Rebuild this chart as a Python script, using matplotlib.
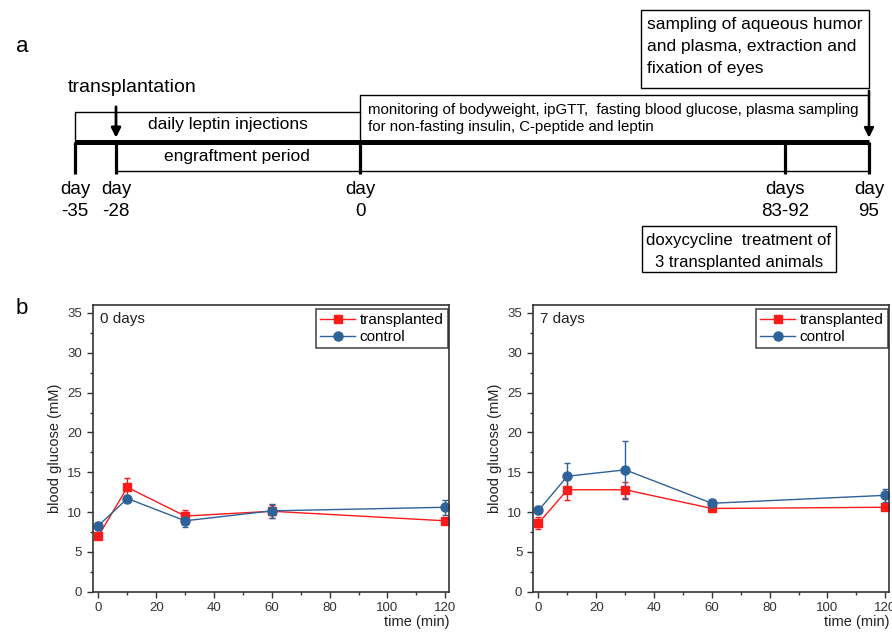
import matplotlib.pyplot as plt
from matplotlib.patches import Rectangle
from matplotlib.lines import Line2D
from matplotlib.ticker import MultipleLocator

plt.rcParams["font.family"] = ["Liberation Sans", "DejaVu Sans"]

# --- data: glucose tolerance (mean, error) ---
time_min = [0, 10, 30, 60, 120]

d0_tx = [7.0, 13.1, 9.5, 10.1, 8.9]
d0_tx_err = [0.3, 1.2, 0.7, 0.8, 0.3]
d0_ctrl = [8.3, 11.7, 8.9, 10.15, 10.6]
d0_ctrl_err = [0.5, 0.5, 0.8, 0.9, 0.95]

d7_tx = [8.6, 12.8, 12.8, 10.45, 10.6]
d7_tx_err = [0.75, 1.35, 1.0, 0.3, 0.4]
d7_ctrl = [10.2, 14.5, 15.3, 11.1, 12.1]
d7_ctrl_err = [0.5, 1.7, 3.6, 0.6, 0.8]

panel_titles = ["0 days", "7 days"]

# --- timeline (schematic, not to scale) ---
day_labels = ["day\n-35", "day\n-28", "day\n0", "days\n83-92", "day\n95"]
day_x = [75, 116, 360, 785, 869]   # schematic positions in pixels

RED = "#ff1a1a"
BLUE = "#2f6299"

fig = plt.figure(figsize=(8.92, 6.32), dpi=100)

# panel a drawn in pixel units
ax = fig.add_axes([0, 0, 1, 1])
ax.set_xlim(0, 892)
ax.set_ylim(632, 0)
ax.axis("off")

x35, x28, x0, x83, x95 = day_x
y_line = 141.5

ax.plot([x35, x95], [y_line, y_line], color="black", lw=3.6, solid_capstyle="butt")
for x in day_x:
    ax.plot([x, x], [y_line, 173.5], color="black", lw=2.3, solid_capstyle="butt")
# leptin box
ax.plot([x35, x35, x0], [y_line, 112, 112], color="black", lw=1.0)
# monitoring box
ax.plot([x0, x0, x95], [y_line, 94.5, 94.5], color="black", lw=1.0)
# engraftment / bottom line
ax.plot([x28, x95], [170.5, 170.5], color="black", lw=1.0)

ax.text(68, 88, "transplantation", fontsize=14, va="center", ha="left")
ax.annotate("", xy=(x28, y_line - 1), xytext=(x28, 104),
            arrowprops=dict(arrowstyle="-|>", color="black", lw=2.0, mutation_scale=14))
ax.text(228, 124, "daily leptin injections", fontsize=12.5, ha="center", va="center")
ax.text(237, 157, "engraftment period", fontsize=12.5, ha="center", va="center")
ax.text(368, 110, "monitoring of bodyweight, ipGTT,  fasting blood glucose, plasma sampling",
        fontsize=10.8, ha="left", va="center")
ax.text(368, 127.5, "for non-fasting insulin, C-peptide and leptin",
        fontsize=10.8, ha="left", va="center")

# sampling box
ax.add_patch(Rectangle((641, 10), x95 - 641, 78, fill=False, lw=1.0, edgecolor="black"))
for i, line in enumerate(["sampling of aqueous humor", "and plasma, extraction and",
                          "fixation of eyes"]):
    ax.text(647, 25 + i * 22, line, fontsize=12.5, ha="left", va="center")
ax.annotate("", xy=(x95, y_line - 1), xytext=(x95, 88),
            arrowprops=dict(arrowstyle="-|>", color="black", lw=1.8, mutation_scale=14))

for x, lab in zip(day_x, day_labels):
    top, bottom = lab.split("\n")
    ax.text(x, 189, top, fontsize=13.5, ha="center", va="center")
    ax.text(x, 212, bottom, fontsize=13.5, ha="center", va="center")

# doxycycline box
ax.add_patch(Rectangle((642, 226), 194, 46, fill=False, lw=1.0, edgecolor="black"))
ax.text(739, 241, "doxycycline  treatment of", fontsize=12, ha="center", va="center")
ax.text(739, 263, "3 transplanted animals", fontsize=12, ha="center", va="center")

ax.text(22, 46, "a", fontsize=16, ha="center", va="center")
ax.text(22, 309, "b", fontsize=16, ha="center", va="center")

# panel b
series = [(d0_tx, d0_tx_err, d0_ctrl, d0_ctrl_err),
          (d7_tx, d7_tx_err, d7_ctrl, d7_ctrl_err)]
lefts = [0.1039, 0.5972]

handles = [
    Line2D([], [], color=RED, marker="s", ms=6, lw=1.0),
    Line2D([], [], color=BLUE, marker="o", ms=6.5, lw=1.0),
]

for left, title, (tx, tx_e, ct, ct_e) in zip(lefts, panel_titles, series):
    a = fig.add_axes([left, 0.0638, 0.3995, 0.4536])
    a.errorbar(time_min, tx, yerr=tx_e, color=RED, marker="s", ms=6, lw=1.0,
               capsize=2.5, elinewidth=1.0)
    a.errorbar(time_min, ct, yerr=ct_e, color=BLUE, marker="o", ms=6.5, lw=1.0,
               capsize=2.5, elinewidth=1.0)
    a.set_xlim(-2, 121.3)
    a.set_ylim(0, 36)
    a.xaxis.set_major_locator(MultipleLocator(20))
    a.xaxis.set_minor_locator(MultipleLocator(10))
    a.yaxis.set_major_locator(MultipleLocator(5))
    a.yaxis.set_minor_locator(MultipleLocator(2.5))
    a.tick_params(which="both", direction="out", top=False, right=False,
                  labelsize=9.5, labelcolor="#333333", color="#333333")
    a.tick_params(which="major", length=4, width=1.0)
    a.tick_params(which="minor", length=2.5, width=1.0)
    for s in a.spines.values():
        s.set_linewidth(1.2)
        s.set_color("#333333")
    a.set_ylabel("blood glucose (mM)", fontsize=10.5, color="#222222", labelpad=4)
    a.set_xlabel("time (min)", fontsize=10.5, color="#222222", loc="right", labelpad=1)
    a.text(0.02, 0.95, title, transform=a.transAxes, fontsize=11, ha="left", va="center",
           color="#222222")
    leg = a.legend(handles, ["transplanted", "control"], loc="upper right",
                   bbox_to_anchor=(1.0, 0.99), fontsize=11,
                   frameon=True, fancybox=False, edgecolor="#222222",
                   handlelength=2.3, handletextpad=0.3, borderpad=0.25,
                   labelspacing=0.2, borderaxespad=0.1)
    leg.get_frame().set_linewidth(1.2)

fig.savefig("out.png", dpi=100)
